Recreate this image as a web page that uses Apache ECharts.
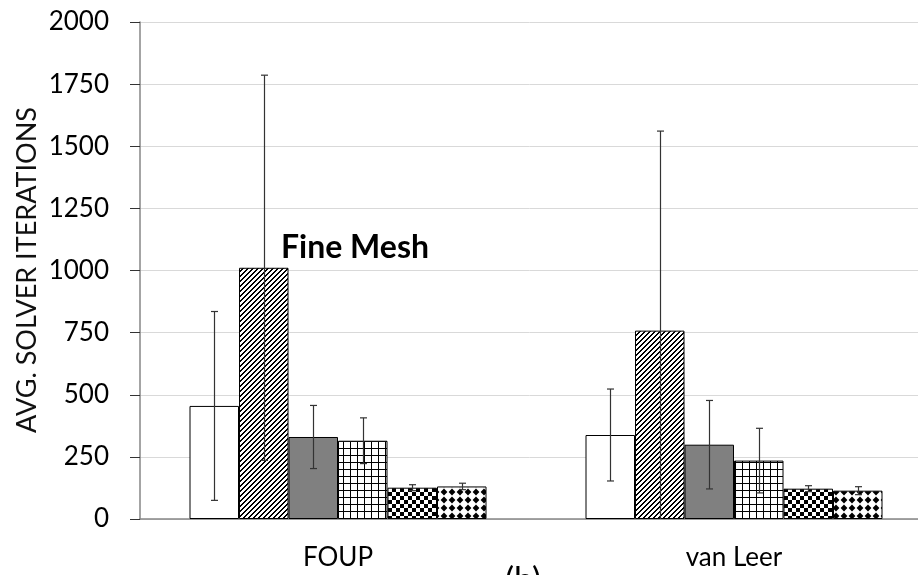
<!DOCTYPE html>
<html>
<head>
<meta charset="utf-8">
<script src="https://cdn.jsdelivr.net/npm/echarts@6/dist/echarts.min.js"></script>
<style>html,body{margin:0;padding:0;background:#fff;}#c{width:918px;height:575px;}</style>
</head>
<body>
<div id="c"></div>
<script>
// ---- data ----
var categories = ['FOUP', 'van Leer'];
var yTicks = [0, 250, 500, 750, 1000, 1250, 1500, 1750, 2000];
var valsOpen     = [455, 338];
var valsHatch    = [1011, 758];
var valsGray     = [330, 299];
var valsGrid     = [315, 235];
var valsChecker  = [126, 122];
var valsDiamond  = [131, 114];
var errOpen      = [380, 185];
var errHatch     = [775, 803];
var errGray      = [127, 178];
var errGrid      = [92, 130];
var errChecker   = [12, 12];
var errDiamond   = [13, 16];
var annotation = 'Fine Mesh';
var panelLabel = '(b)';
var yName = 'AVG. SOLVER ITERATIONS';

// ---- patterns ----
function tile(w, h, draw) {
  var c = document.createElement('canvas');
  c.width = w; c.height = h;
  var g = c.getContext('2d');
  g.fillStyle = '#fff'; g.fillRect(0, 0, w, h);
  draw(g, w, h);
  return { image: c, repeat: 'repeat' };
}
var patHatch = tile(5, 5, function (g, w, h) {
  g.fillStyle = '#000';
  for (var x = 0; x < w; x++) {
    for (var y = 0; y < h; y++) {
      var m = (x + y) % 5;
      if (m === 0 || m === 1) g.fillRect(x, y, 1, 1);
    }
  }
});
var patGrid = tile(7, 7, function (g, w, h) {
  g.fillStyle = '#000';
  g.fillRect(0, 0, 1, h); g.fillRect(0, 0, w, 1);
});
var patChecker = tile(8, 8, function (g) {
  g.fillStyle = '#000';
  g.fillRect(0, 0, 4, 4); g.fillRect(4, 4, 4, 4);
});
var patDiamond = tile(8, 8, function (g) {
  g.fillStyle = '#000';
  g.beginPath(); g.moveTo(4, 0.6); g.lineTo(7.4, 4); g.lineTo(4, 7.4); g.lineTo(0.6, 4); g.closePath(); g.fill();
});

var fills = ['#ffffff', patHatch, '#808080', patGrid, patChecker, patDiamond];
var values = [valsOpen, valsHatch, valsGray, valsGrid, valsChecker, valsDiamond];
var errs = [errOpen, errHatch, errGray, errGrid, errChecker, errDiamond];

var series = values.map(function (v, i) {
  return {
    type: 'bar', data: v, barWidth: '12.5%', barGap: '0%',
    itemStyle: { color: fills[i], borderColor: '#000', borderWidth: 1 },
    z: 2
  };
});

var errData = [];
errs.forEach(function (e, s) {
  e.forEach(function (d, c) {
    errData.push([c, s, values[s][c] - d, values[s][c] + d]);
  });
});

series.push({
  type: 'custom',
  data: errData,
  clip: true,
  z: 5,
  renderItem: function (params, api) {
    var band = api.size([1, 0])[0];
    var bw = band * 0.125;
    var cx = api.coord([api.value(0), 0])[0] + (api.value(1) - 2.5) * bw;
    cx = Math.round(cx) + 0.5;
    var yl = api.coord([api.value(0), api.value(2)])[1];
    var yh = api.coord([api.value(0), api.value(3)])[1];
    var st = { stroke: '#333', lineWidth: 1.2 };
    return {
      type: 'group',
      children: [
        { type: 'line', shape: { x1: cx, y1: yl, x2: cx, y2: yh }, style: st },
        { type: 'line', shape: { x1: cx - 3.5, y1: yh, x2: cx + 3.5, y2: yh }, style: st },
        { type: 'line', shape: { x1: cx - 3.5, y1: yl, x2: cx + 3.5, y2: yl }, style: st }
      ]
    };
  }
});

var chart = echarts.init(document.getElementById('c'), null, { renderer: 'canvas' });
chart.setOption({
  backgroundColor: '#fff',
  animation: false,
  textStyle: { fontFamily: 'Lato' },
  grid: { left: 140, top: 22, bottom: 56, width: 792, containLabel: false, outerBoundsMode: 'none' },
  xAxis: {
    type: 'category', data: categories,
    axisLine: { lineStyle: { color: '#868686', width: 1.5 } },
    axisTick: { show: false },
    axisLabel: { fontSize: 26, color: '#000', margin: 26, fontFamily: 'Lato' },
    splitLine: { show: false }
  },
  yAxis: {
    type: 'value', min: yTicks[0], max: yTicks[yTicks.length - 1], interval: 250,
    axisLine: { show: true, lineStyle: { color: '#868686', width: 1.5 } },
    axisTick: { show: true, length: 10, inside: false, lineStyle: { color: '#333' } },
    axisLabel: { fontSize: 26, color: '#000', margin: 31, fontFamily: 'Lato',
      formatter: function (v) { return String(v); } },
    splitLine: { show: true, lineStyle: { color: '#d9d9d9', width: 1 } }
  },
  graphic: [
    { type: 'text', x: 27, y: 270, rotation: Math.PI / 2,
      style: { text: yName, fontSize: 27, fontFamily: 'Lato', fill: '#111', align: 'center', verticalAlign: 'middle' } },
    { type: 'text', x: 281, y: 248,
      style: { text: annotation, fontSize: 32, fontWeight: 'bold', fontFamily: 'Lato', fill: '#000', align: 'left', verticalAlign: 'middle' } },
    { type: 'text', x: 523, y: 581,
      style: { text: panelLabel, fontSize: 34, fontFamily: 'Lato', fill: '#000', align: 'center', verticalAlign: 'middle' } }
  ],
  series: series
});
</script>
</body>
</html>
